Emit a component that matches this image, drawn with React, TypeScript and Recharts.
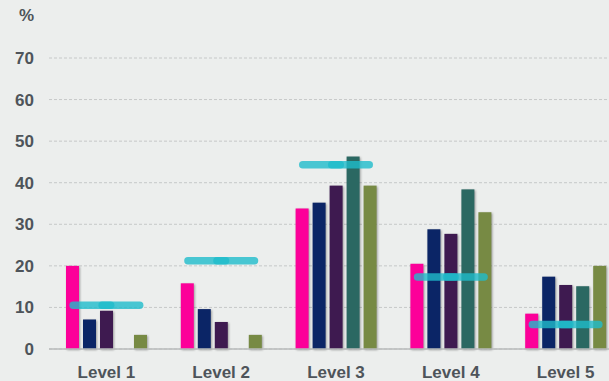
import React from 'react';
import { ComposedChart, Bar, Line, XAxis, YAxis, CartesianGrid } from 'recharts';

const levels = ['Level 1', 'Level 2', 'Level 3', 'Level 4', 'Level 5'];
const pinkValues = [20, 15.8, 33.8, 20.5, 8.5];
const navyValues = [7.1, 9.6, 35.2, 28.8, 17.4];
const purpleValues = [9.2, 6.5, 39.3, 27.7, 15.4];
const tealValues = [null, null, 46.3, 38.4, 15.1];
const oliveValues = [3.4, 3.4, 39.3, 32.9, 20.0];
const averageValues = [10.5, 21.2, 44.3, 17.3, 5.9];
const yTicks = [0, 10, 20, 30, 40, 50, 60, 70];

const seriesColors = ['#fc0099', '#0b2566', '#3e1a50', '#2b6862', '#778a44'];
const seriesKeys = ['pink', 'navy', 'purple', 'teal', 'olive'];

const data = levels.map((level, i) => ({
  level,
  pink: pinkValues[i],
  navy: navyValues[i],
  purple: purpleValues[i],
  teal: tealValues[i],
  olive: oliveValues[i],
  average: averageValues[i],
}));

const FONT = '"Liberation Sans", Arial, sans-serif';
const TEXT_COLOR = '#4e545a';

// bar with a soft drop shadow
const ShadowBar = (props: any) => {
  const { x, y, width, height, fill } = props;
  if (!height || height <= 0) return null;
  return (
    <rect
      x={x}
      y={y}
      width={width}
      height={height}
      fill={fill}
      style={{ filter: 'drop-shadow(1px 1px 1.2px rgba(0,0,0,0.35))' }}
    />
  );
};

// translucent cyan dash marking the group average
const AverageMarker = (props: any) => {
  const { cx, cy, index } = props;
  if (cx == null || cy == null) return null;
  const half = 37;
  const thick = 7.5;
  return (
    <g key={`avg-${index}`}>
      <rect x={cx - half} y={cy - thick / 2} width={half * 2} height={thick} rx={thick / 2} fill="#1fbccb" fillOpacity={0.8} />
      <rect x={cx - 8} y={cy - thick / 2} width={16} height={thick} rx={thick / 2} fill="#1fbccb" fillOpacity={0.8} />
    </g>
  );
};

export default function App() {
  return (
    <div
      style={{
        position: 'absolute',
        left: 0,
        top: 0,
        width: 609,
        height: 381,
        overflow: 'hidden',
        background: '#eceeed',
        fontFamily: FONT,
      }}
    >
      <div
        style={{
          position: 'absolute',
          left: 19,
          top: 6,
          fontSize: 17,
          fontWeight: 'bold',
          color: TEXT_COLOR,
        }}
      >
        %
      </div>
      <ComposedChart
        width={623}
        height={381}
        data={data}
        margin={{ top: 58, right: 0, left: 0, bottom: 0 }}
        barSize={13}
        barGap={4}
      >
        <CartesianGrid vertical={false} stroke="#c6c8c8" strokeDasharray="3 2" />
        <XAxis
          dataKey="level"
          height={32}
          tickLine={false}
          tickSize={0}
          tickMargin={17}
          axisLine={{ stroke: '#b9bbbb', strokeWidth: 1.5 }}
          tick={{ fill: TEXT_COLOR, fontSize: 17, fontWeight: 'bold', fontFamily: FONT }}
        />
        <YAxis
          width={49}
          domain={[0, 70]}
          ticks={yTicks}
          interval={0}
          axisLine={false}
          tickLine={false}
          tickSize={0}
          tickMargin={15}
          tick={{ fill: TEXT_COLOR, fontSize: 17, fontWeight: 'bold', fontFamily: FONT }}
        />
        {seriesKeys.map((key, i) => (
          <Bar key={key} dataKey={key} fill={seriesColors[i]} shape={ShadowBar} isAnimationActive={false} />
        ))}
        <Line
          dataKey="average"
          stroke="none"
          dot={AverageMarker}
          activeDot={false}
          isAnimationActive={false}
        />
      </ComposedChart>
    </div>
  );
}
